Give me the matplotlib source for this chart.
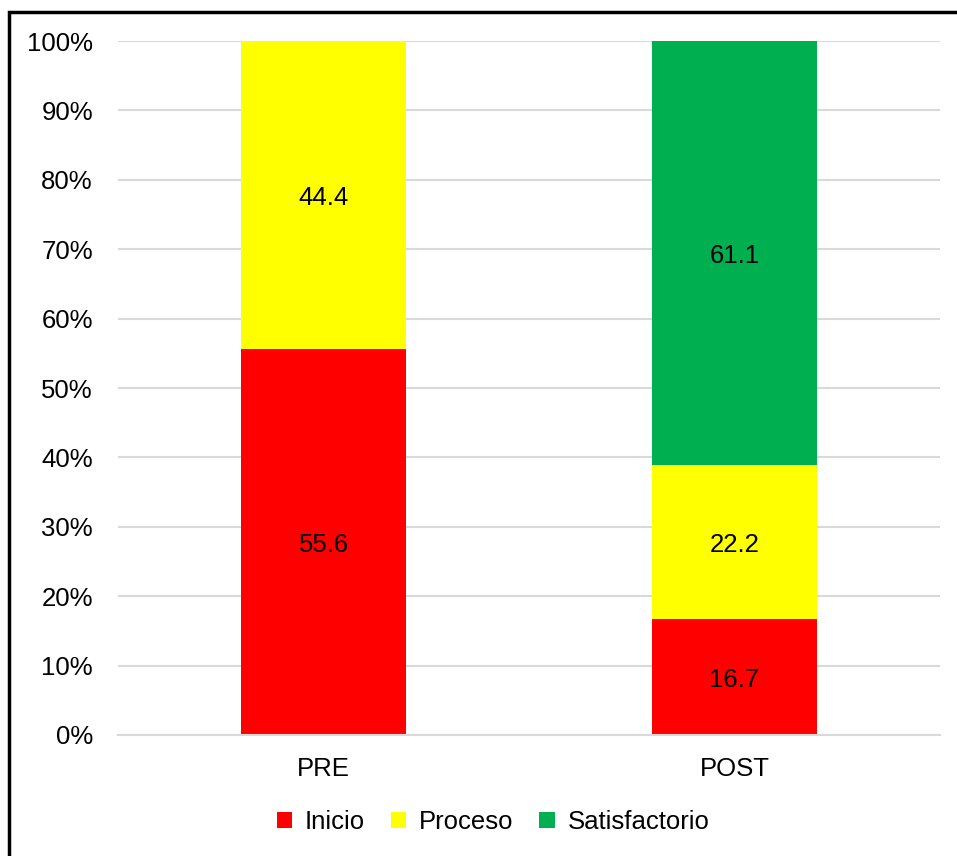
import matplotlib
matplotlib.use("Agg")
import matplotlib.pyplot as plt
from matplotlib.patches import Rectangle
from matplotlib.ticker import PercentFormatter
import numpy as np

plt.rcParams['font.family'] = ['Liberation Sans', 'DejaVu Sans']

# stacked shares per stage (%)
stages = ["PRE", "POST"]
levels = ["Inicio", "Proceso", "Satisfactorio"]
inicio = [55.6, 16.7]
proceso = [44.4, 22.2]
satisfactorio = [0.0, 61.1]
colors = ["#ff0000", "#ffff00", "#00b050"]

fs = 18.5

fig = plt.figure(figsize=(9.57, 8.56), dpi=100)
ax = fig.add_axes([118/957, 1 - 735/856, 822/957, 694/856])

x = np.arange(len(stages))
bottom = np.zeros(len(stages))
for name, vals, col in zip(levels, [inicio, proceso, satisfactorio], colors):
    vals = np.array(vals)
    bars = ax.bar(x, vals, 0.4, bottom=bottom, color=col, label=name, zorder=2)
    for b, v, b0 in zip(bars, vals, bottom):
        if v > 0:
            ax.text(b.get_x() + b.get_width()/2, b0 + v/2 - 0.4, f"{v:.1f}",
                    ha='center', va='center', fontsize=fs, color='black', zorder=3)
    bottom += vals

ax.set_xlim(-0.5, 1.5)
ax.set_ylim(0, 100)
ax.set_yticks(np.arange(0, 101, 10))
ax.yaxis.set_major_formatter(PercentFormatter(decimals=0))
ax.set_xticks(x)
ax.set_xticklabels(stages)
ax.tick_params(axis='both', length=0, labelsize=fs)
ax.tick_params(axis='x', pad=16)
ax.tick_params(axis='y', pad=18)
ax.grid(axis='y', color='#d9d9d9', linewidth=1.5, zorder=0)
for s in ['top', 'right', 'left']:
    ax.spines[s].set_visible(False)
ax.spines['bottom'].set_color('#d9d9d9')
ax.spines['bottom'].set_linewidth(1.5)

fig.legend(loc='center', bbox_to_anchor=(493/957, 1 - 822/856), ncol=3, frameon=False,
           fontsize=fs, handlelength=0.6, handleheight=0.6, handletextpad=0.5,
           columnspacing=1.0)

# outer frame, left and top edges visible
fig.add_artist(Rectangle((9/957, -0.1), 1.2, 1 - 12/856 + 0.1, transform=fig.transFigure,
                         fill=False, edgecolor='black', linewidth=2.5))

fig.savefig("out.png", dpi=100)
